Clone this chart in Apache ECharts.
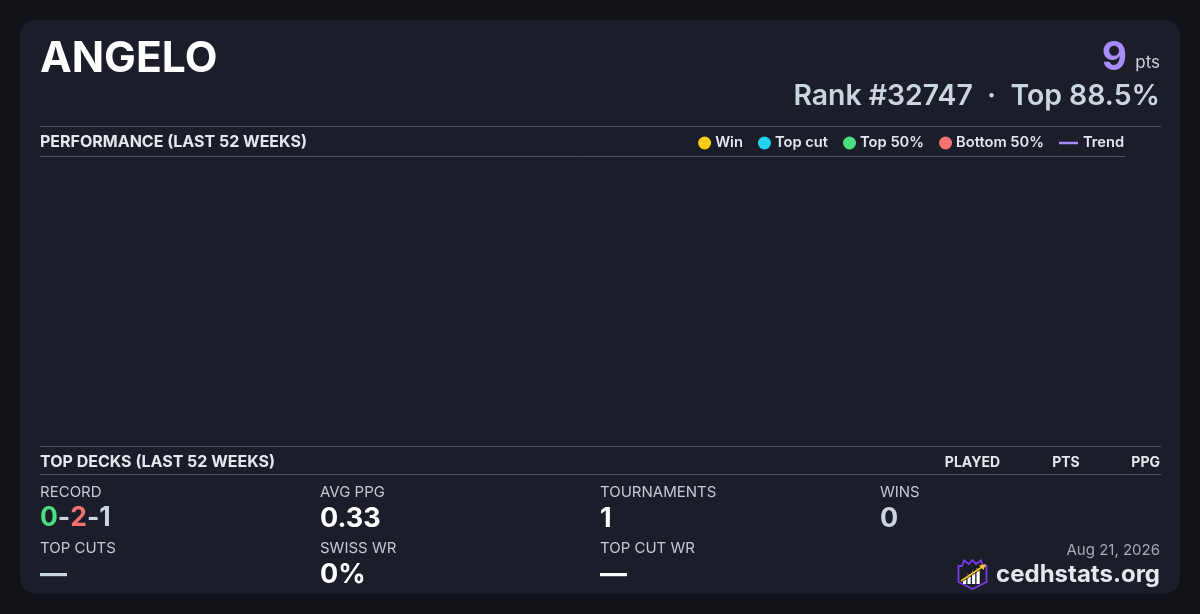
<!DOCTYPE html>
<html>
<head>
<meta charset="utf-8">
<script src="https://cdn.jsdelivr.net/npm/echarts@6/dist/echarts.min.js"></script>
<style>
html,body{margin:0;padding:0;background:#121318;}
#c{width:1200px;height:614px;}
</style>
</head>
<body>
<div id="c"></div>
<script>
// ---- data ----
const playerName = 'ANGELO';
const totalPoints = 9;
const rank = 32747;
const topPercent = 88.5;
const reportDate = 'Aug 21, 2026';
const siteName = 'cedhstats.org';

const legendNames = ['Win', 'Top cut', 'Top 50%', 'Bottom 50%'];
const trendName = 'Trend';
const legendColors = ['#facc15', '#22d3ee', '#4ade80', '#f87171'];
const trendColor = '#a78bfa';

// performance over last 52 weeks: no events plotted
const weeks = [];
const winPoints = [];
const topCutPoints = [];
const top50Points = [];
const bottom50Points = [];
const trendValues = [];

const deckHeaders = ['PLAYED', 'PTS', 'PPG'];

const record = [0, 2, 1];
const statLabels = ['RECORD', 'AVG PPG', 'TOURNAMENTS', 'WINS', 'TOP CUTS', 'SWISS WR', 'TOP CUT WR'];
const statValues = ['0-2-1', '0.33', '1', '0', '—', '0%', '—'];

// ---- chart ----
const chart = echarts.init(document.getElementById('c'));
const FONT = 'Inter, "Noto Sans", sans-serif';
const LINE = '#475569';

const graphics = [];
graphics.push({type:'rect', z:-10, shape:{x:20,y:20,width:1160,height:574,r:16}, style:{fill:'#1b1d28'}});
function txt(t, x, y, size, weight, color, align){
  graphics.push({type:'text', z:5, style:{text:t, x:x, y:y + 1.5, font: weight+' '+size+'px '+FONT, fill:color, textAlign:align||'left', textVerticalAlign:'middle'}});
}
function hline(x1, x2, y){
  graphics.push({type:'line', z:5, shape:{x1:x1,y1:y,x2:x2,y2:y}, style:{stroke:LINE, lineWidth:1}});
}
// header
txt(playerName, 40, 58, 42.5, 700, '#ffffff');
txt('pts', 1160, 61, 17, 400, '#cbd5e1', 'right');
txt(String(totalPoints), 1127, 57, 39, 700, trendColor, 'right');
txt('Rank #' + rank + '  ·  Top ' + topPercent + '%', 1160, 95, 28.4, 600, '#cbd5e1', 'right');
// section: performance
hline(40, 1161, 126.5);
txt('PERFORMANCE (LAST 52 WEEKS)', 40, 141, 16, 700, '#e2e8f0');
hline(40, 1125, 156.5);
// section: top decks
hline(40, 1161, 446.5);
txt('TOP DECKS (LAST 52 WEEKS)', 40, 461, 16, 700, '#e2e8f0');
txt(deckHeaders[0], 1000, 461, 14, 700, '#e2e8f0', 'right');
txt(deckHeaders[1], 1066, 461, 14, 700, '#e2e8f0', 'center');
txt(deckHeaders[2], 1160, 461, 14, 700, '#e2e8f0', 'right');
hline(40, 1161, 474.5);
// stats
const colX = [40, 320, 600, 880, 40, 320, 600];
const labY = [491, 491, 491, 491, 547, 547, 547];
const valColors = [null, '#ffffff', '#ffffff', '#cbd5e1', '#cbd5e1', '#ffffff', '#ffffff'];
statLabels.forEach((l, i) => {
  txt(l, colX[i], labY[i], 15, 400, '#c3c9d3');
  if (i === 0) {
    graphics.push({type:'text', z:5, style:{
      text: '{g|' + record[0] + '}{d|-}{r|' + record[1] + '}{d|-}{n|' + record[2] + '}',
      x: colX[i], y: labY[i] + 27.5, textVerticalAlign:'middle',
      font: '700 26.5px ' + FONT,
      rich: {
        g:{fill:'#4ade80', font:'700 26.5px '+FONT},
        r:{fill:'#f87171', font:'700 26.5px '+FONT},
        d:{fill:'#cbd5e1', font:'700 26.5px '+FONT},
        n:{fill:'#cbd5e1', font:'700 26.5px '+FONT}
      }
    }});
  } else {
    txt(statValues[i], colX[i], labY[i] + 26, 27, 700, valColors[i]);
  }
});
// footer
txt(reportDate, 1160, 549, 15, 400, '#a3abb8', 'right');
txt(siteName, 1160, 573, 24, 700, '#e2e8f0', 'right');
// logo
graphics.push({type:'polygon', z:5, shape:{points:[[958.5,566],[962,566],[964,560.5],[969,564],[972.5,560],[976,564],[981,560.5],[983,566],[986.5,566],[986.5,582],[972.5,589],[958.5,582]]},
  style:{fill:'#1b1d28', stroke:'#7c3aed', lineWidth:1.8}});
[[963,578,3.2,6],[967.5,574,3.2,10],[972,571,3.2,13],[976.5,568,3.2,16]].forEach(b=>{
  graphics.push({type:'rect', z:6, shape:{x:b[0],y:b[1],width:b[2],height:b[3]}, style:{fill:'#ffffff'}});
});
graphics.push({type:'line', z:7, shape:{x1:961,y1:581,x2:982,y2:567}, style:{stroke:'#111', lineWidth:3}});
graphics.push({type:'line', z:8, shape:{x1:961,y1:581,x2:982,y2:567}, style:{stroke:'#facc15', lineWidth:1.6}});
graphics.push({type:'polygon', z:8, shape:{points:[[986,564],[979,565.5],[983.5,570]]}, style:{fill:'#facc15'}});

const scatterSeries = [winPoints, topCutPoints, top50Points, bottom50Points].map((d, i) => ({
  name: legendNames[i], type:'scatter', data:d, symbol:'circle', symbolSize:10,
  itemStyle:{color:legendColors[i], opacity:1}
}));

chart.setOption({
  backgroundColor:'#121318',
  animation:false,
  grid:{left:40, right:40, top:160, bottom:174},
  xAxis:{type:'category', data:weeks, show:false},
  yAxis:{type:'value', show:false, min:0, max:10},
  legend:[{
    data: legendNames.map((n, i) => ({name:n, icon:'circle', itemStyle:{color:legendColors[i], opacity:1, borderWidth:0}})),
    right:156, top:135.5, padding:0, itemGap:15, itemWidth:13, itemHeight:13,
    textStyle:{color:'#e2e8f0', fontFamily:FONT, fontSize:14.7, fontWeight:600, padding:[0,0,0,-1]},
    selectedMode:false
  },{
    data:[{name:trendName, icon:'rect', itemStyle:{color:trendColor, opacity:1}}],
    left:1059, top:135.5, padding:0, itemWidth:19, itemHeight:2.5,
    textStyle:{color:'#e2e8f0', fontFamily:FONT, fontSize:14.7, fontWeight:600},
    selectedMode:false
  }],
  series: scatterSeries.concat([{
    name: trendName, type:'line', data:trendValues, showSymbol:false,
    lineStyle:{color:trendColor, width:2}, itemStyle:{color:trendColor}
  }]),
  graphic: graphics
});
</script>
</body>
</html>
